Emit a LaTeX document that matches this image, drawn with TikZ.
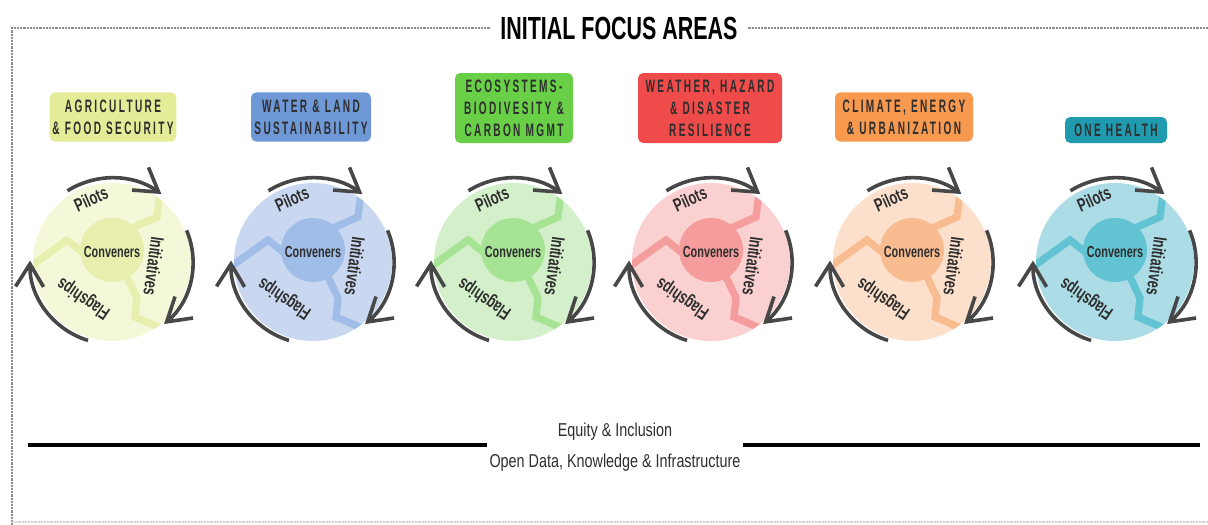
\documentclass[tikz,border=0pt]{standalone}
\usepackage{fontspec}
\usetikzlibrary{arrows.meta}
\newfontfamily\titlefont[FakeStretch=0.67]{Liberation Sans}
\newfontfamily\tagfont[FakeStretch=0.56,LetterSpace=13]{Liberation Sans}
\newfontfamily\wheelfont[FakeStretch=0.68]{Liberation Sans}
\newfontfamily\basefont[FakeStretch=0.77]{Liberation Sans}

\definecolor{inkgray}{HTML}{2E2E2E}
\definecolor{arrowgray}{HTML}{474747}
\definecolor{framegray}{HTML}{8C8C8C}
% box, light and mid colour of each area
\definecolor{agribox}{HTML}{E4EC98}
\definecolor{agrilight}{HTML}{F5F8D8}
\definecolor{agrimid}{HTML}{E8EFAE}
\definecolor{waterbox}{HTML}{6E98D6}
\definecolor{waterlight}{HTML}{C9D8F0}
\definecolor{watermid}{HTML}{A0BDE8}
\definecolor{ecobox}{HTML}{69CF47}
\definecolor{ecolight}{HTML}{D3F0CA}
\definecolor{ecomid}{HTML}{A7E394}
\definecolor{hazardbox}{HTML}{EF4B4B}
\definecolor{hazardlight}{HTML}{FAD0D0}
\definecolor{hazardmid}{HTML}{F59C9C}
\definecolor{climatebox}{HTML}{F7994E}
\definecolor{climatelight}{HTML}{FCE0CC}
\definecolor{climatemid}{HTML}{F9BC90}
\definecolor{healthbox}{HTML}{1F9AAE}
\definecolor{healthlight}{HTML}{ACDCE5}
\definecolor{healthmid}{HTML}{62C3D2}

\tikzset{
  areabox/.style={rounded corners=4pt, inner sep=0pt, align=center, text=inkgray,
    font=\tagfont\bfseries\fontsize{13.5}{16.5}\selectfont},
  wheeltext/.style={text=inkgray, inner sep=0pt, font=\wheelfont\bfseries\fontsize{14}{14}\selectfont},
  band/.style={line width=5.5pt, line join=miter},
  cyclearrow/.style={arrowgray, line width=2.7pt,
    -{Straight Barb[length=17pt,width=21pt,line width=2.7pt]}},
  frameline/.style={framegray, line width=1.1pt, dash pattern=on 1.6pt off 0.8pt},
}

% one wheel: #1 name, #2 x of centre, #3 light colour, #4 mid colour
\newcommand{\focuswheel}[4]{%
  \begin{scope}[shift={(#2,-262)}]
    \fill[#3] (0,0) circle (79);
    \begin{scope}
      \clip (0,0) circle (79);
      \draw[#4, band] (0,12) -- (20,34) -- (45,45) -- (48,69) -- (52,90);
      \draw[#4, band] (0,12) -- (-30,10) -- (-45,22) -- (-95,-14);
      \draw[#4, band] (0,12) -- (15,-15) -- (25,-36) -- (23,-55) -- (70,-75);
    \end{scope}
    \fill[#4] (0,12) circle (32);
    \node[wheeltext, font=\wheelfont\bfseries\fontsize{12}{12}\selectfont] (conv#1) at (0,10) {Conveners};
    \node[wheeltext, rotate=24] (pilots#1) at (-21,63) {Pilots};
    \node[wheeltext, rotate=-98] (init#1) at (42,-4) {Initiatives};
    \node[wheeltext, rotate=146] (flag#1) at (-28,-36) {Flagships};
    \draw[cyclearrow] (122:84) arc (122:54:84);
    \draw[cyclearrow] (23:81) arc (23:-50:81);
    \draw[cyclearrow] (-107:82) arc (-107:-181:82);
  \end{scope}}

\begin{document}
\begin{tikzpicture}[x=0.75pt, y=0.75pt]
  \useasboundingbox (0,0) rectangle (1208,-525);

  % frame and title
  \node[inner xsep=8pt, inner ysep=2pt, text=black, font=\titlefont\bfseries\fontsize{24}{24}\selectfont]
    (title) at (619,-28) {INITIAL FOCUS AREAS};
  \coordinate (frametl) at (12,-28);
  \coordinate (frametr) at (1208,-28);
  \coordinate (framebl) at (12,-525);
  \draw[frameline] (title.west) -- (frametl) -- (framebl);
  \draw[frameline] (title.east) -- (frametr);
  \draw[frameline, framegray!40] (12,-522) -- (1208,-522);

  % area labels
  \node[areabox, fill=agribox, minimum width=95pt, minimum height=37pt] (agri) at (113,-117)
    {AGRICULTURE\\\& FOOD SECURITY};
  \node[areabox, fill=waterbox, minimum width=90pt, minimum height=37pt] (water) at (311,-117)
    {WATER \& LAND\\SUSTAINABILITY};
  \node[areabox, fill=ecobox, minimum width=88.5pt, minimum height=52.5pt] (eco) at (514,-108)
    {ECOSYSTEMS-\\BIODIVESITY \&\\CARBON MGMT};
  \node[areabox, fill=hazardbox, minimum width=108pt, minimum height=52.5pt] (hazard) at (710,-108)
    {WEATHER, HAZARD\\\& DISASTER\\RESILIENCE};
  \node[areabox, fill=climatebox, minimum width=103.5pt, minimum height=37pt] (climate) at (904,-117)
    {CLIMATE, ENERGY\\\& URBANIZATION};
  \node[areabox, fill=healthbox, minimum width=76.5pt, minimum height=19.5pt] (health) at (1116,-130)
    {ONE HEALTH};

  % wheels
  \focuswheel{agri}{112}{agrilight}{agrimid}
  \focuswheel{water}{313}{waterlight}{watermid}
  \focuswheel{eco}{513}{ecolight}{ecomid}
  \focuswheel{hazard}{711}{hazardlight}{hazardmid}
  \focuswheel{climate}{912}{climatelight}{climatemid}
  \focuswheel{health}{1115}{healthlight}{healthmid}

  % foundation
  \node[text=inkgray, inner sep=1pt, font=\basefont\fontsize{14}{14}\selectfont] (equity) at (615,-432) {Equity \& Inclusion};
  \node[text=inkgray, inner sep=2pt, font=\basefont\fontsize{14}{14}\selectfont] (opendata) at (615,-463) {Open Data, Knowledge \& Infrastructure};
  \coordinate (ruleleft) at (28,-445);
  \coordinate (ruleright) at (1200,-445);
  \draw[line width=3pt] (ruleleft) -- (opendata.west |- ruleleft);
  \draw[line width=3pt] (opendata.east |- ruleright) -- (ruleright);
\end{tikzpicture}
\end{document}
